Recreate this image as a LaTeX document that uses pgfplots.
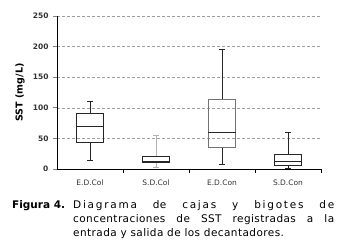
\documentclass[border=0pt]{standalone}
\usepackage{pgfplots}
\pgfplotsset{compat=1.18}
\usepgfplotslibrary{statistics}
\usepackage{fontspec}
\setmainfont{DejaVu Sans}
\newfontfamily\capfont{DejaVu Sans}[LetterSpace=4]
\begin{document}
\begin{tikzpicture}
\path[use as bounding box] (0pt,0pt) rectangle (340pt,248pt);
\begin{axis}[
  at={(57pt,79pt)}, anchor=south west,
  scale only axis, width=264pt, height=153pt,
  xmin=0.5, xmax=4.5, ymin=0, ymax=250,
  axis lines*=left,
  axis line style={-, black, line width=0.8pt},
  ytick={0,50,...,250},
  ymajorgrids,
  grid style={densely dashed, gray!75, line width=0.5pt},
  ytick style={gray, line width=0.6pt},
  tick align=outside, major tick length=4pt,
  xtick={1,2,3,4},
  xticklabels={E.D.Col,S.D.Col,E.D.Con,S.D.Con},
  xtick style={draw=none},
  extra x ticks={1.5,2.5,3.5,4.5},
  extra x tick labels={},
  extra x tick style={xtick style={draw=black, line width=0.8pt}, major tick length=4pt},
  /pgf/number format/assume math mode=true,
  yticklabel style={font=\bfseries\fontsize{7.5}{8}\selectfont, text=black!80, xshift=-1pt},
  xticklabel style={font=\fontsize{7.5}{9}\selectfont, text=black!80, yshift=-3pt},
  ylabel={\bfseries SST (mg/L)},
  ylabel style={font=\fontsize{9.5}{11}\selectfont, at={(axis description cs:-0.140,0.5)}, anchor=center},
  boxplot/draw direction=y,
]
\addplot[draw=black!85, line width=0.9pt, mark=none, boxplot prepared={median=69, upper quartile=90, lower quartile=43, upper whisker=110, lower whisker=14, draw position=1, box extend=0.41, whisker extend=0.09}] coordinates {};
\addplot[draw=black!85, line width=0.9pt, mark=none, boxplot prepared={median=13, upper quartile=20, lower quartile=10, upper whisker=54, lower whisker=3, draw position=2, box extend=0.41, whisker extend=0.09, every whisker/.style={draw=gray!60}}] coordinates {};
\addplot[draw=black!85, line width=0.9pt, mark=none, boxplot prepared={median=60, upper quartile=113, lower quartile=36, upper whisker=195, lower whisker=8, draw position=3, box extend=0.41, whisker extend=0.09, every box/.style={draw=black!55}}] coordinates {};
\addplot[draw=black!85, line width=0.9pt, mark=none, boxplot prepared={median=12, upper quartile=23, lower quartile=5, upper whisker=60, lower whisker=1, draw position=4, box extend=0.41, whisker extend=0.09}] coordinates {};
\end{axis}
\node[anchor=base west, font=\bfseries\fontsize{10.5}{12}\selectfont, inner sep=0pt] at (12pt,39pt) {Figura 4.};
\node[anchor=base west, font=\capfont\fontsize{10.5}{12}\selectfont, inner sep=0pt] at (73pt,39pt) {\makebox[261pt][s]{D\,i\,a\,g\,r\,a\,m\,a de c\,a\,j\,a\,s y b\,i\,g\,o\,t\,e\,s d\,e}};
\node[anchor=base west, font=\capfont\fontsize{10.5}{12}\selectfont, inner sep=0pt] at (73pt,25pt) {\makebox[261pt][s]{concentraciones de SST registradas a la}};
\node[anchor=base west, font=\capfont\fontsize{10.5}{12}\selectfont, inner sep=0pt] at (73pt,11pt) {entrada y salida de los decantadores.};
\end{tikzpicture}
\end{document}
